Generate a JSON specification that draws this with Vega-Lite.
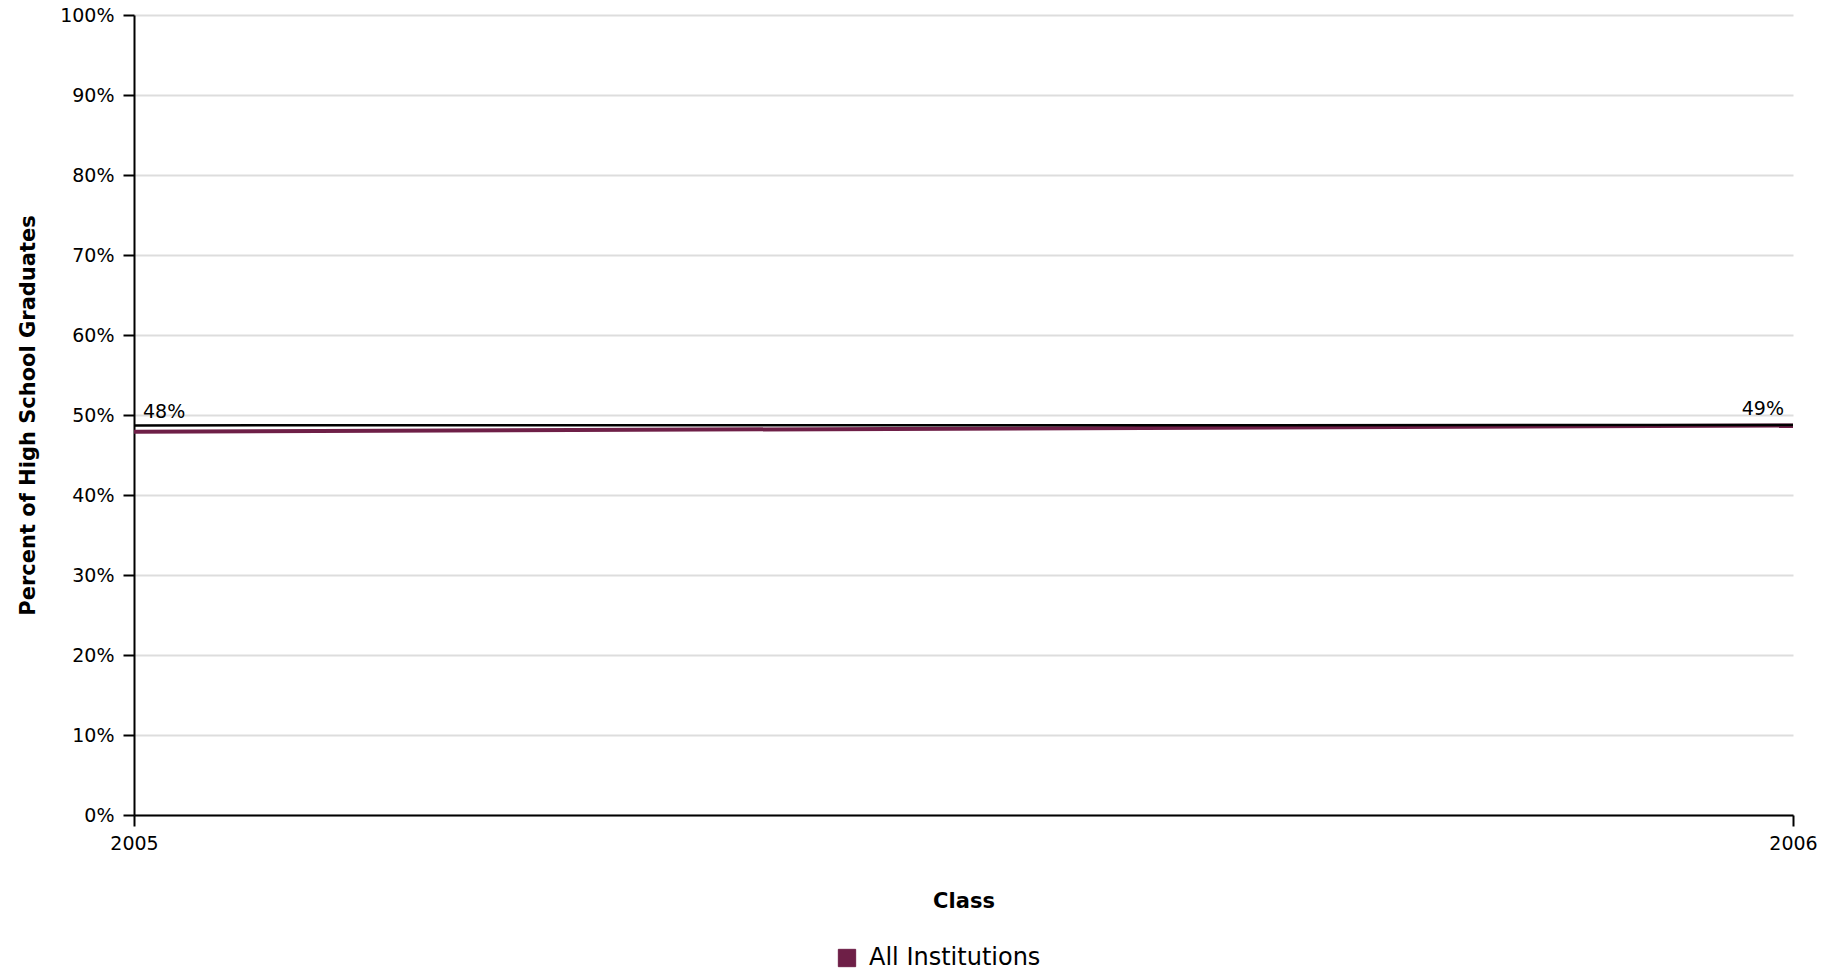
{
  "$schema": "https://vega.github.io/schema/vega-lite/v6.json",
  "width": 1659,
  "height": 800,
  "autosize": {"type": "none"},
  "padding": {"left": 134, "top": 15, "right": 48, "bottom": 158},
  "background": "white",
  "config": {
    "view": {"stroke": null},
    "font": "DejaVu Sans",
    "axis": {"labelFont": "DejaVu Sans", "titleFont": "DejaVu Sans", "labelColor": "#000", "titleColor": "#000"}
  },
  "datasets": {
    "main": [
      {"Class": 2005, "value": 47.9, "label": "48%", "series": "All Institutions"},
      {"Class": 2006, "value": 48.7, "label": "49%", "series": "All Institutions"}
    ],
    "ref": [
      {"Class": 2005, "value": 48.7},
      {"Class": 2006, "value": 48.75}
    ]
  },
  "layer": [
    {
      "data": {"name": "main"},
      "mark": {"type": "line", "strokeWidth": 4},
      "encoding": {
        "x": {
          "field": "Class", "type": "quantitative",
          "scale": {"domain": [2005, 2006], "nice": false, "zero": false},
          "axis": {
            "values": [2005, 2006], "format": "d", "title": "Class",
            "grid": false, "domainColor": "#000", "domainWidth": 2,
            "tickColor": "#000", "tickWidth": 2, "tickSize": 11,
            "labelFontSize": 19, "labelPadding": 8, "labelFlush": false,
            "titleFontSize": 21, "titleFontWeight": "bold", "titlePadding": 37
          }
        },
        "y": {
          "field": "value", "type": "quantitative",
          "scale": {"domain": [0, 100], "nice": false},
          "axis": {
            "values": [0, 10, 20, 30, 40, 50, 60, 70, 80, 90, 100],
            "labelExpr": "datum.value + '%'",
            "title": "Percent of High School Graduates",
            "gridColor": "#dddddd", "gridWidth": 2,
            "domainColor": "#000", "domainWidth": 2,
            "tickColor": "#000", "tickWidth": 2, "tickSize": 11,
            "labelFontSize": 19, "labelPadding": 9,
            "titleFontSize": 21, "titleFontWeight": "bold", "titlePadding": 21
          }
        },
        "color": {
          "field": "series", "type": "nominal",
          "scale": {"range": ["#6e1f47"]},
          "legend": {
            "title": null, "orient": "none", "legendX": 701, "legendY": 931,
            "direction": "horizontal", "symbolType": "square", "symbolSize": 300,
            "symbolFillColor": "#6e1f47",
            "symbolStrokeColor": "#8a8a8a", "symbolStrokeWidth": 1,
            "labelFontSize": 24, "labelLimit": 400, "labelFont": "DejaVu Sans", "labelColor": "#000", "labelOffset": 10
          }
        }
      }
    },
    {
      "data": {"name": "ref"},
      "mark": {"type": "line", "strokeWidth": 2.5, "color": "#000"},
      "encoding": {
        "x": {"field": "Class", "type": "quantitative"},
        "y": {"field": "value", "type": "quantitative"}
      }
    },
    {
      "data": {"name": "main"},
      "transform": [{"filter": "datum.Class == 2005"}],
      "mark": {"type": "text", "align": "left", "baseline": "bottom", "dx": 9, "dy": -10, "fontSize": 19, "color": "#000"},
      "encoding": {
        "x": {"field": "Class", "type": "quantitative"},
        "y": {"field": "value", "type": "quantitative"},
        "text": {"field": "label"}
      }
    },
    {
      "data": {"name": "main"},
      "transform": [{"filter": "datum.Class == 2006"}],
      "mark": {"type": "text", "align": "right", "baseline": "bottom", "dx": -9, "dy": -6, "fontSize": 19, "color": "#000"},
      "encoding": {
        "x": {"field": "Class", "type": "quantitative"},
        "y": {"field": "value", "type": "quantitative"},
        "text": {"field": "label"}
      }
    }
  ]
}
